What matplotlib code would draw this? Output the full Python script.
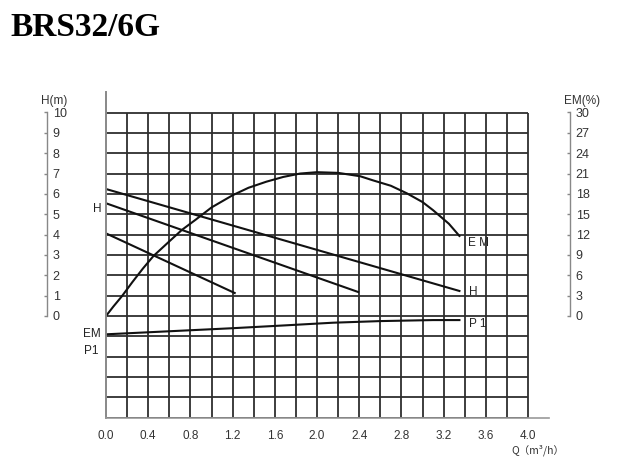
import numpy as np
import matplotlib
matplotlib.use("Agg")
import matplotlib.pyplot as plt

# --- donnees ---
q_ticks = [0.0, 0.4, 0.8, 1.2, 1.6, 2.0, 2.4, 2.8, 3.2, 3.6, 4.0]
h_ticks = [0, 1, 2, 3, 4, 5, 6, 7, 8, 9, 10]
em_ticks = [0, 3, 6, 9, 12, 15, 18, 21, 24, 27, 30]

# courbes H (3 vitesses), droites
h1_q = [0.0, 3.35]
h1_h = [6.24, 1.23]
h2_q = [0.0, 2.39]
h2_h = [5.54, 1.18]
h3_q = [0.0, 1.22]
h3_h = [4.06, 1.13]

# rendement EM (%)
em_q = [0.0, 0.07, 0.15, 0.25, 0.35, 0.45, 0.6, 0.72, 0.85, 1.0, 1.2, 1.35, 1.52, 1.68,
        1.84, 2.0, 2.2, 2.41, 2.53, 2.7, 2.85, 3.0, 3.1, 3.25, 3.35]
em_pct = [0.0, 1.4, 2.9, 5.0, 7.0, 8.85, 11.0, 12.7, 14.2, 16.0, 17.8, 18.9, 19.8, 20.5,
          21.0, 21.2, 21.1, 20.6, 20.0, 19.2, 18.1, 16.8, 15.6, 13.6, 11.8]

# puissance P1 (position dans la grille, sous le zero)
p1_q = [0.0, 0.6, 1.2, 1.7, 2.15, 2.6, 3.1, 3.35]
p1_y = [-0.9, -0.75, -0.6, -0.46, -0.33, -0.25, -0.2, -0.2]

W, H = 632, 462
plt.rcParams["font.family"] = ["Liberation Sans", "DejaVu Sans"]
fig = plt.figure(figsize=(W / 100, H / 100), dpi=100)

# axe principal : Q de 0 a 4.2, y de -5 a 11 (unites H)
px_q = 105.5
px_h = 20.35
x0, y_zero = 106, 316
ax = fig.add_axes([x0 / W, 1 - (y_zero + 5 * px_h) / H, 4.2 * px_q / W, 16 * px_h / H])
ax.set_xlim(0, 4.2)
ax.set_ylim(-5, 11)

grid_c = "#2e2e2e"
ax.hlines(np.arange(-4, 11), 0, 4.0, color=grid_c, lw=1.3)
ax.vlines(np.arange(1, 21) * 0.2, -5, 10, color=grid_c, lw=1.3)
ax.hlines(-5, 0, 4.0, color=grid_c, lw=1.4)

for s in ["top", "right"]:
    ax.spines[s].set_visible(False)
ax.spines["left"].set_color("#888888")
ax.spines["bottom"].set_color("#999999")
ax.spines["left"].set_linewidth(1.4)
ax.spines["bottom"].set_linewidth(1.2)
ax.set_yticks([])
ax.set_xticks(q_ticks)
ax.set_xticklabels([f"{v:.1f}" for v in q_ticks], fontsize=8.5, color="#333333")
ax.tick_params(axis="x", length=0, pad=8.5)

lw = 1.5
ax.plot(h1_q, h1_h, color="#111111", lw=lw)
ax.plot(h2_q, h2_h, color="#111111", lw=lw)
ax.plot(h3_q, h3_h, color="#111111", lw=lw)
ax.plot(em_q, np.array(em_pct) / 3.0, color="#111111", lw=lw)
ax.plot(p1_q, p1_y, color="#111111", lw=lw)

lab = dict(fontsize=8.5, color="#222222", va="center")
ax.text(-0.04, 5.26, "H", ha="right", **lab)
ax.text(-0.13, -0.9, "EM", ha="center", **lab)
ax.text(-0.14, -1.7, "P1", ha="center", **lab)
ax.text(3.43, 3.59, "E M", ha="left", **lab)
ax.text(3.44, 1.18, "H", ha="left", **lab)
ax.text(3.44, -0.39, "P 1", ha="left", **lab)

# echelle gauche H(m)
axl = fig.add_axes([47 / W, 1 - y_zero / H, 0.0001, 10 * px_h / H])
axl.set_ylim(0, 10)
axl.set_xticks([])
for s in ["top", "right", "bottom"]:
    axl.spines[s].set_visible(False)
axl.spines["left"].set_color("#888888")
axl.spines["left"].set_linewidth(1.0)
axl.set_yticks(h_ticks)
axl.set_yticklabels([str(v) for v in h_ticks], fontsize=9, color="#333333")
axl.tick_params(axis="y", left=True, right=False, labelleft=False, labelright=True,
                length=2, width=1, color="#888888", pad=2)

# echelle droite EM(%)
axr = fig.add_axes([570 / W, 1 - y_zero / H, 0.0001, 10 * px_h / H])
axr.set_ylim(0, 30)
axr.set_xticks([])
for s in ["top", "right", "bottom"]:
    axr.spines[s].set_visible(False)
axr.spines["left"].set_color("#888888")
axr.spines["left"].set_linewidth(1.0)
axr.set_yticks(em_ticks)
axr.set_yticklabels([str(v) for v in em_ticks], fontsize=9, color="#333333")
axr.tick_params(axis="y", left=True, right=False, labelleft=False, labelright=True,
                length=2, width=1, color="#888888", pad=2)

fig.text(54 / W, 1 - 101 / H, "H(m)", fontsize=8.5, color="#333333", ha="center", va="center")
fig.text(582 / W, 1 - 101 / H, "EM(%)", fontsize=8.5, color="#333333", ha="center", va="center")
fig.text(538 / W, 1 - 450 / H, "Q（m³/h）", fontsize=7.5, color="#333333", ha="center", va="center",
         family=["Noto Sans CJK SC", "DejaVu Sans"])

fig.text(10 / W, 1 - 28 / H, "BRS32/6G", fontsize=24, fontweight="bold",
         family=["Liberation Serif", "DejaVu Serif"], ha="left", va="center")

fig.savefig("out.png", dpi=100)
